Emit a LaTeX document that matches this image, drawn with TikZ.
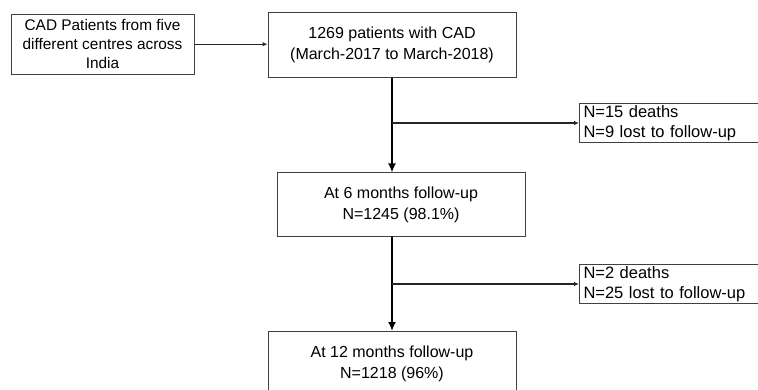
\documentclass[tikz,border=0pt]{standalone}
\usepackage{fontspec}
\setmainfont{Liberation Sans}
\usetikzlibrary{arrows.meta}
\begin{document}
\begin{tikzpicture}[x=1pt,y=-1pt,
  box/.style={draw=black!75, line width=1pt, inner sep=0pt, align=center, text=black,
    font=\fontsize{16}{20.5}\selectfont},
  sidebox/.style={draw=black!75, line width=1pt, anchor=north west, inner xsep=4pt, inner ysep=0pt,
    text width=192pt, align=left, minimum height=39pt, text=black,
    font=\fontsize{16.5}{19.5}\selectfont},
  thinarrow/.style={line width=1.3pt, draw=black!85, -{Latex[length=5pt,width=4.5pt]}},
  thickarrow/.style={line width=2.6pt, -{Latex[length=9pt,width=8pt]}}]
\useasboundingbox (0,0) rectangle (758,390);
\fill[white] (0,0) rectangle (758,390);
\clip (0,0) rectangle (758,390);

\node[box, minimum width=183pt, minimum height=60pt, font=\fontsize{15.4}{18.8}\selectfont] (b1) at (102.5,44.2)
  {CAD Patients from five\\different centres across\\India};
\node[box, minimum width=248pt, minimum height=65pt] (b2) at (392,44.7)
  {1269 patients with CAD\\(March-2017 to March-2018)};
\node[box, minimum width=248pt, minimum height=64pt] (b3) at (401,205)
  {At 6 months follow-up\\N=1245 (98.1\%)};
\node[box, minimum width=248pt, minimum height=65pt] (b4) at (392,364)
  {At 12 months follow-up\\N=1218 (96\%)};
\node[sidebox] (s1) at (579,103) {N=15 deaths\\N=9 lost to follow-up};
\node[sidebox] (s2) at (579,264) {N=2 deaths\\N=25 lost to follow-up};

\coordinate (vx) at (392,0);

\draw[thinarrow] (b1.east) -- (b1.east -| b2.west);
\draw[thickarrow] (b2.south -| vx) -- (b3.north -| vx);
\draw[thickarrow] (b3.south -| vx) -- (b4.north -| vx);
\draw[thinarrow] (vx |- s1.west) -- (s1.west);
\draw[thinarrow] (vx |- s2.west) -- (s2.west);
\end{tikzpicture}
\end{document}
